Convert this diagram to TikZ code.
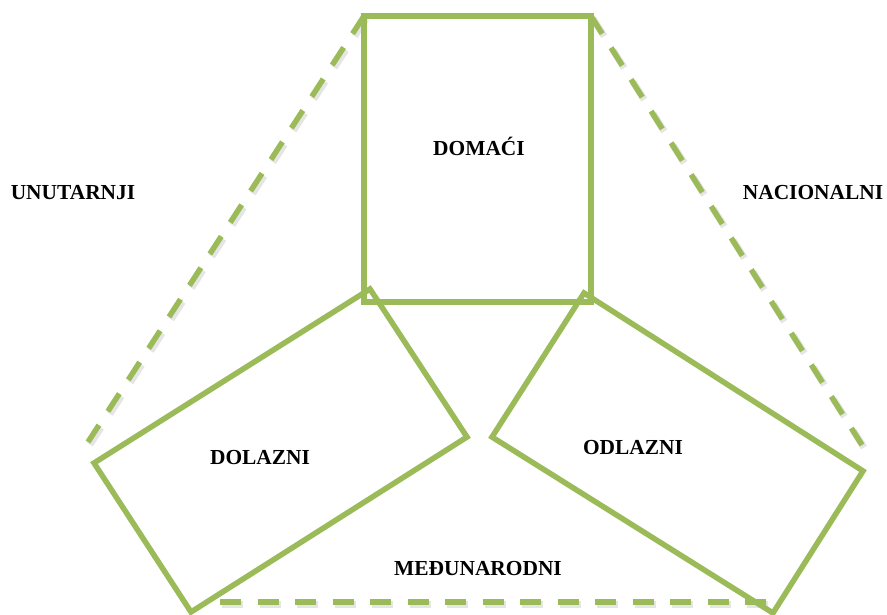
\documentclass[tikz,border=0pt]{standalone}
\usepackage{fontspec}
\setmainfont{Liberation Serif}
\usetikzlibrary{calc}
\begin{document}
\begin{tikzpicture}[x=1pt,y=-1pt,
  gline/.style={draw=green1,line width=5.5pt,line join=miter},
  gdash/.style={draw=green1,line width=5.5pt,dash pattern=on 21pt off 16.5pt},
  gshadow/.style={draw=black,opacity=0.10,line width=7pt,dash pattern=on 21pt off 16.5pt},
  lbl/.style={font=\bfseries\fontsize{21.4}{25}\selectfont,inner sep=0pt}]
\definecolor{green1}{HTML}{9BBB59}
\useasboundingbox (0,0) rectangle (887,614);
\clip (0,0) rectangle (887,614);
\coordinate (tl) at (364,16);
\coordinate (tr) at (591,16);
\coordinate (lb) at (88,442);
\coordinate (rb) at (862,445);
\coordinate (bl) at (220,602);
\coordinate (br) at (775,602);
% shadows
\draw[gshadow] ($(tl)+(2,2.5)$) -- ($(lb)+(2,2.5)$);
\draw[gshadow] ($(tr)+(2,2.5)$) -- ($(rb)+(2,2.5)$);
\draw[gshadow] ($(bl)+(2,2.5)$) -- ($(br)+(2,2.5)$);
% dashed triangle sides
\draw[gdash] (tl) -- (lb);
\draw[gdash] (tr) -- (rb);
\draw[gdash] (bl) -- (br);
% rectangles
\draw[gline] (364,16) -- (591,16) -- (591,302) -- (364,302) -- cycle;
\draw[gline] (370,289) -- (467,437) -- (191,612) -- (94,463) -- cycle;
\draw[gline] (584,293) -- (863,471) -- (773,613) -- (492,437) -- cycle;
% labels
\node[lbl] (dom) at (479,146) {DOMAĆI};
\node[lbl] (unu) at (73,193) {UNUTARNJI};
\node[lbl] (nac) at (813,193) {NACIONALNI};
\node[lbl] (dol) at (260,458) {DOLAZNI};
\node[lbl] (odl) at (633,448) {ODLAZNI};
\node[lbl] (med) at (478,569) {MEĐUNARODNI};
\end{tikzpicture}
\end{document}
